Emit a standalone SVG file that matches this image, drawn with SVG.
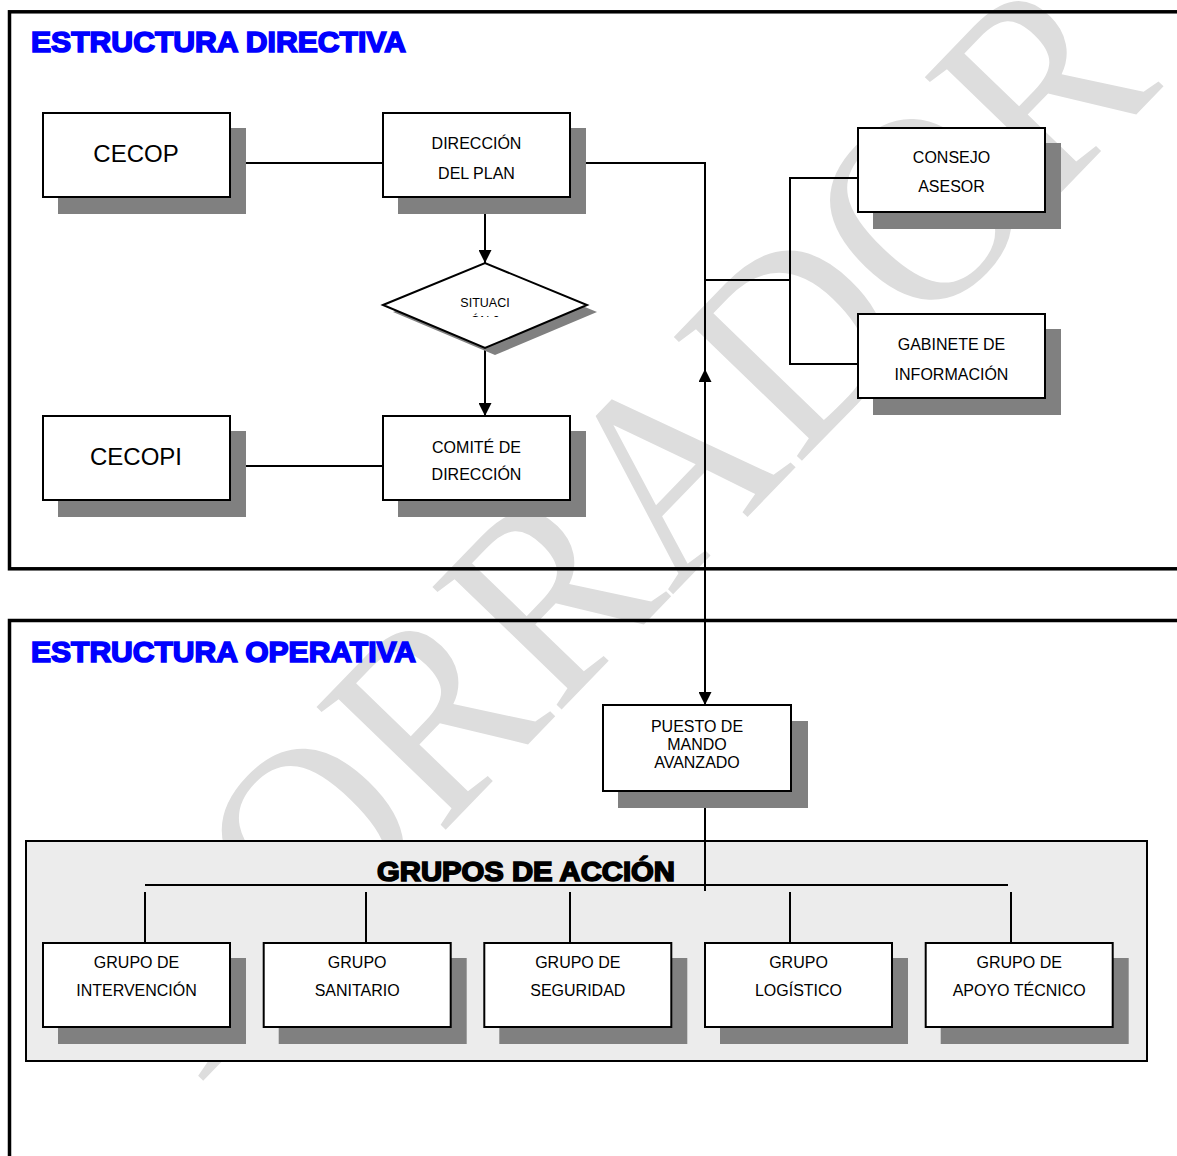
<svg xmlns="http://www.w3.org/2000/svg" width="1177" height="1156" viewBox="0 0 1177 1156">
<defs>
<style>
.bg{fill:#fff}
.wm{font-family:"Liberation Serif","Times New Roman",serif;fill:#dddddd}
.frame{fill:none;stroke:#000;stroke-width:3.5}
.box{fill:#fff;stroke:#000;stroke-width:2}
.shadow{fill:#808080}
.conn{fill:none;stroke:#000;stroke-width:2}
.lbl{font-family:"Liberation Sans",Arial,sans-serif;font-size:16px;text-anchor:middle;fill:#000}
.big{font-size:24px}
.small{font-size:12.5px}
.title{font-family:"Liberation Sans",Arial,sans-serif;font-weight:bold;font-size:29px;fill:#0000ff;stroke:#0000ff;stroke-width:1.6}
.gtitle{font-family:"Liberation Sans",Arial,sans-serif;font-weight:bold;font-size:27px;fill:#000;stroke:#000;stroke-width:1.6}
.panel{fill:#ececec;stroke:#000;stroke-width:2}
</style>
<marker id="ah" viewBox="0 0 13 13" refX="13" refY="6.5" markerWidth="13" markerHeight="13" markerUnits="userSpaceOnUse" orient="auto-start-reverse">
<path d="M0,0 L13,6.5 L0,13 z" fill="#000"/>
</marker>
<clipPath id="dclip"><rect x="383" y="263" width="205" height="54"/></clipPath>
</defs>
<rect class="bg" x="0" y="0" width="1177" height="1156"/>
<g id="watermark">
<text class="wm" x="0" y="0" font-size="272" text-anchor="middle" textLength="1390" lengthAdjust="spacingAndGlyphs" transform="translate(681,586) rotate(-46)">BORRADOR</text>
</g>
<g id="frames">
<rect class="frame" x="9.5" y="11.8" width="1200" height="557"/>
<rect class="frame" x="9.5" y="620.5" width="1200" height="600"/>
<text class="title" x="31" y="52" textLength="375" lengthAdjust="spacingAndGlyphs">ESTRUCTURA DIRECTIVA</text>
<text class="title" x="31" y="662" textLength="385" lengthAdjust="spacingAndGlyphs">ESTRUCTURA OPERATIVA</text>
</g>
<g id="grupos-panel">
<rect class="panel" x="26" y="841" width="1121" height="220"/>
<text class="gtitle" x="377" y="881" textLength="298" lengthAdjust="spacingAndGlyphs">GRUPOS DE ACCIÓN</text>
</g>
<g id="connectors">
<path class="conn" d="M246,163 H383"/>
<path class="conn" d="M246,466 H383"/>
<path class="conn" d="M485,197 V263" marker-end="url(#ah)"/>
<path class="conn" d="M485,348 V416" marker-end="url(#ah)"/>
<path class="conn" d="M586,163 H705 V369"/>
<path class="conn" d="M705,369 V705" marker-start="url(#ah)" marker-end="url(#ah)"/>
<path class="conn" d="M705,280 H790"/>
<path class="conn" d="M858,178 H790 V364 H858"/>
<path class="conn" d="M705,808 V891"/>
<path class="conn" d="M145,885 H1008"/>
<path class="conn" d="M145,892 V943"/>
<path class="conn" d="M366,892 V943"/>
<path class="conn" d="M570,892 V943"/>
<path class="conn" d="M790,892 V943"/>
<path class="conn" d="M1011,892 V943"/>
</g>
<g id="cecop">
<rect class="shadow" x="58" y="128" width="188" height="86"/>
<rect class="box" x="43" y="113" width="187" height="84"/>
<text class="lbl big" x="136" y="162">CECOP</text>
</g>
<g id="direccion-plan">
<rect class="shadow" x="398" y="128" width="188" height="86"/>
<rect class="box" x="383" y="113" width="187" height="84"/>
<text class="lbl" x="476.5" y="149">DIRECCIÓN</text>
<text class="lbl" x="476.5" y="178.5">DEL PLAN</text>
</g>
<g id="situacion">
<polygon class="shadow" points="393,312 495,270 597,312 495,355"/>
<polygon class="box" points="383,305 485,263 587,305 485,348"/>
<text class="lbl small" x="485" y="306.5">SITUACI</text>
<text class="lbl small" x="485" y="325" clip-path="url(#dclip)">ÓN 0</text>
</g>
<g id="cecopi">
<rect class="shadow" x="58" y="431" width="188" height="86"/>
<rect class="box" x="43" y="416" width="187" height="84"/>
<text class="lbl big" x="136" y="465">CECOPI</text>
</g>
<g id="comite">
<rect class="shadow" x="398" y="431" width="188" height="86"/>
<rect class="box" x="383" y="416" width="187" height="84"/>
<text class="lbl" x="476.5" y="452.5">COMITÉ DE</text>
<text class="lbl" x="476.5" y="479.5">DIRECCIÓN</text>
</g>
<g id="consejo">
<rect class="shadow" x="873" y="143" width="188" height="86"/>
<rect class="box" x="858" y="128" width="187" height="84"/>
<text class="lbl" x="951.5" y="163">CONSEJO</text>
<text class="lbl" x="951.5" y="191.5">ASESOR</text>
</g>
<g id="gabinete">
<rect class="shadow" x="873" y="329" width="188" height="86"/>
<rect class="box" x="858" y="314" width="187" height="84"/>
<text class="lbl" x="951.5" y="350">GABINETE DE</text>
<text class="lbl" x="951.5" y="380">INFORMACIÓN</text>
</g>
<g id="puesto">
<rect class="shadow" x="618" y="721" width="190" height="87"/>
<rect class="box" x="603" y="705" width="188" height="86"/>
<text class="lbl" x="697" y="731.5">PUESTO DE</text>
<text class="lbl" x="697" y="749.5">MANDO</text>
<text class="lbl" x="697" y="767.5">AVANZADO</text>
</g>
<g id="g-intervencion">
<rect class="shadow" x="58" y="958" width="188" height="86"/>
<rect class="box" x="43" y="943" width="187" height="84"/>
<text class="lbl" x="136.5" y="968">GRUPO DE</text>
<text class="lbl" x="136.5" y="996">INTERVENCIÓN</text>
</g>
<g id="g-sanitario">
<rect class="shadow" x="278.7" y="958" width="188" height="86"/>
<rect class="box" x="263.7" y="943" width="187" height="84"/>
<text class="lbl" x="357.2" y="968">GRUPO</text>
<text class="lbl" x="357.2" y="996">SANITARIO</text>
</g>
<g id="g-seguridad">
<rect class="shadow" x="499.3" y="958" width="188" height="86"/>
<rect class="box" x="484.3" y="943" width="187" height="84"/>
<text class="lbl" x="577.8" y="968">GRUPO DE</text>
<text class="lbl" x="577.8" y="996">SEGURIDAD</text>
</g>
<g id="g-logistico">
<rect class="shadow" x="720" y="958" width="188" height="86"/>
<rect class="box" x="705" y="943" width="187" height="84"/>
<text class="lbl" x="798.5" y="968">GRUPO</text>
<text class="lbl" x="798.5" y="996">LOGÍSTICO</text>
</g>
<g id="g-apoyo">
<rect class="shadow" x="940.7" y="958" width="188" height="86"/>
<rect class="box" x="925.7" y="943" width="187" height="84"/>
<text class="lbl" x="1019.2" y="968">GRUPO DE</text>
<text class="lbl" x="1019.2" y="996">APOYO TÉCNICO</text>
</g>
</svg>
